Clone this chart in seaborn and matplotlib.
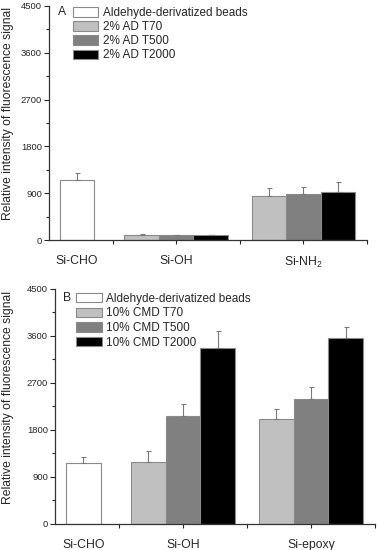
import numpy as np
import matplotlib
matplotlib.use("Agg")
import matplotlib.pyplot as plt
import pandas as pd
import seaborn as sns

# ---- data ----
groups_a = ["Si-CHO", "Si-OH", "Si-NH$_2$"]
series_a = ["Aldehyde-derivatized beads", "2% AD T70", "2% AD T500", "2% AD T2000"]
aldehyde_a, aldehyde_err_a = 1160, 125
t70_a, t70_err_a = [105, 845], [5, 160]
t500_a, t500_err_a = [100, 885], [4, 128]
t2000_a, t2000_err_a = [100, 917], [3, 204]

groups_b = ["Si-CHO", "Si-OH", "Si-epoxy"]
series_b = ["Aldehyde-derivatized beads", "10% CMD T70", "10% CMD T500", "10% CMD T2000"]
aldehyde_b, aldehyde_err_b = 1161, 121
t70_b, t70_err_b = [1193, 2003], [198, 192]
t500_b, t500_err_b = [2067, 2393], [223, 223]
t2000_b, t2000_err_b = [3375, 3554], [319, 223]

colors = ["#ffffff", "#c0c0c0", "#808080", "#000000"]
yticks = [0, 900, 1800, 2700, 3600, 4500]

sns.set_style("ticks")
plt.rcParams["font.family"] = ["Liberation Sans", "DejaVu Sans"]
plt.rcParams["mathtext.fontset"] = "custom"
plt.rcParams["mathtext.rm"] = "Liberation Sans"
plt.rcParams["mathtext.default"] = "rm"

centers = [0.44, 2.0, 4.0]
bw = 0.543


def make_df(series, ald, ald_err, vals, errs):
    rows = [(centers[0], ald, ald_err, series[0])]
    for k, (v, e) in enumerate(zip(vals, errs)):
        for g in range(2):
            rows.append((centers[g + 1] + (k - 1) * bw, v[g], e[g], series[k + 1]))
    return pd.DataFrame(rows, columns=["pos", "value", "err", "series"])


def draw(ax, df, series, groups, letter, lx, ly, leg_x, leg_y, lab_x, spacing):
    sns.barplot(data=df, x="pos", y="value", hue="series", hue_order=series,
                palette=dict(zip(series, colors)), native_scale=True, dodge=False,
                width=1.0, errorbar=None, saturation=1, edgecolor="#8a8a8a",
                linewidth=0.8, ax=ax)
    ax.errorbar(df["pos"], df["value"], yerr=[np.zeros(len(df)), df["err"]],
                fmt="none", ecolor="#7a7a7a", elinewidth=0.8, capsize=1.8,
                capthick=0.8, zorder=1)
    ax.set_xlim(0, 5)
    ax.set_ylim(0, 4500)
    ax.set_yticks(yticks)
    ax.set_yticks(np.arange(450, 4500, 900), minor=True)
    ax.set_xticks(centers)
    ax.set_xticklabels(groups, fontsize=8.8)
    ax.set_xticks([1, 3, 5], minor=True)
    ax.xaxis.get_major_ticks()[0].tick1line.set_visible(False)
    ax.tick_params(axis="y", labelsize=6.8, length=3.5, width=0.8, pad=1.5)
    ax.tick_params(axis="y", which="minor", length=2, width=0.8)
    ax.tick_params(axis="x", which="both", length=3, width=0.8, pad=8)
    ax.set_xlabel("")
    ax.set_ylabel("Relative intensity of fluorescence signal", fontsize=8.7)
    ax.yaxis.set_label_coords(lab_x, 0.54)
    for s in ["left", "bottom"]:
        ax.spines[s].set_color("#333333")
        ax.spines[s].set_linewidth(0.9)
    sns.despine(ax=ax)
    sns.move_legend(ax, "upper left", bbox_to_anchor=(leg_x, leg_y), frameon=False,
                    title=None, fontsize=8.5, handlelength=2.15, handleheight=0.85,
                    handletextpad=0.35, labelspacing=spacing, borderpad=0,
                    borderaxespad=0)
    for p in ax.get_legend().get_patches():
        p.set_edgecolor("#8a8a8a")
    ax.text(lx, ly, letter, transform=ax.transAxes, fontsize=8.7,
            ha="left", va="center")


fig = plt.figure(figsize=(3.77, 5.5), dpi=100)
ax_a = fig.add_axes([0.130, 0.5636, 0.8435, 0.4255])
ax_b = fig.add_axes([0.1459, 0.0473, 0.8488, 0.4273])

df_a = make_df(series_a, aldehyde_a, aldehyde_err_a,
               [t70_a, t500_a, t2000_a], [t70_err_a, t500_err_a, t2000_err_a])
df_b = make_df(series_b, aldehyde_b, aldehyde_err_b,
               [t70_b, t500_b, t2000_b], [t70_err_b, t500_err_b, t2000_err_b])

draw(ax_a, df_a, series_a, groups_a, "A", 0.028, 0.974, 0.0755, 0.996, -0.11, 0.18)
draw(ax_b, df_b, series_b, groups_b, "B", 0.025, 0.962, 0.066, 0.984, -0.128, 0.22)

fig.savefig("out.png", dpi=100)
